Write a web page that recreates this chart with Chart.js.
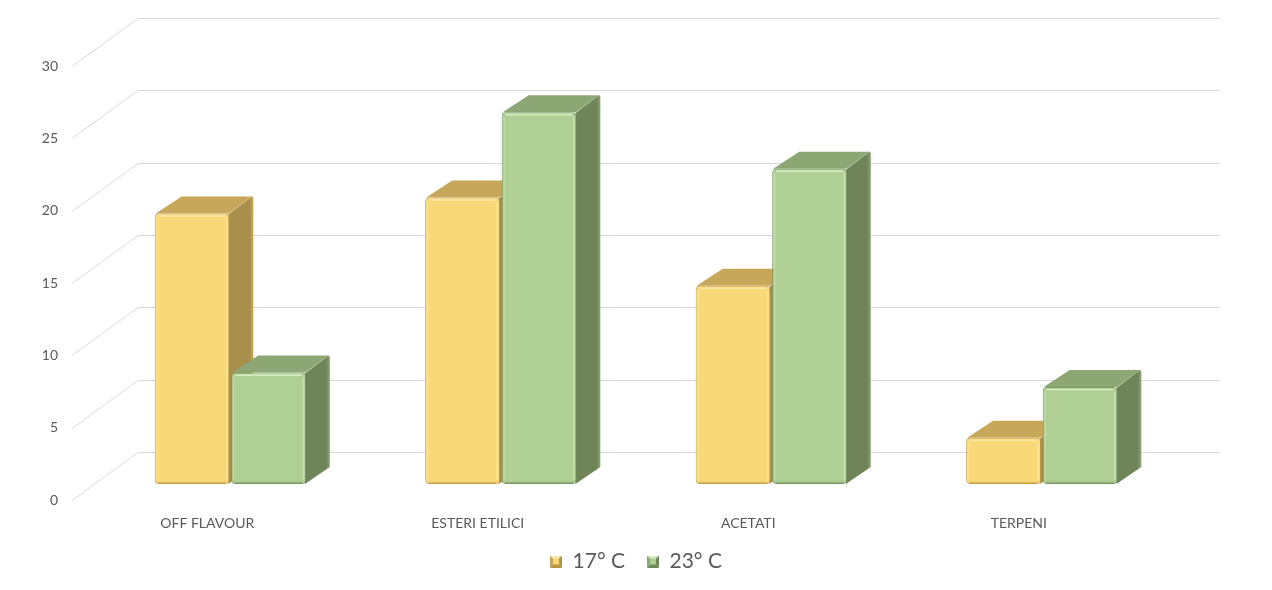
<!DOCTYPE html>
<html>
<head>
<meta charset="utf-8">
<script src="https://cdn.jsdelivr.net/npm/chart.js@4.4.0/dist/chart.umd.min.js"></script>
<style>
  html, body { margin: 0; padding: 0; background: #ffffff; }
  canvas { display: block; }
</style>
</head>
<body>
<canvas id="c" width="1272" height="590"></canvas>
<script>
// ---- data ----
const categories = ['OFF FLAVOUR', 'ESTERI ETILICI', 'ACETATI', 'TERPENI'];
const seriesNames = ['17° C', '23° C'];
const values17 = [18.7, 19.8, 13.7, 3.2];
const values23 = [7.7, 25.7, 21.8, 6.7];
const yTickValues = [0, 5, 10, 15, 20, 25, 30];

// ---- styles ----
const TEXT = '#595959';
const FONT = 'Lato, "Open Sans", "DejaVu Sans", sans-serif';
const PAL = [
  { front: '#F9D878', border: '#C3A04C', hi: '#FDEBAA', top: '#C7A85B', side: '#A88F4B', dark: '#B8963F' },
  { front: '#B0CF95', border: '#7A9862', hi: '#D6ECC0', top: '#8CA774', side: '#6F8559', dark: '#6E8A58' }
];
const WALL = { dx: 66, dy: -48 };      // depth of the back wall
const BAR_OFF = { dx: 23, dy: -16 };   // bar front plane offset
const BAR_DEPTH = { dx: 24, dy: -18 }; // bar depth

function makeIcon(p) {
  const c = document.createElement('canvas');
  c.width = 12; c.height = 12;
  const g = c.getContext('2d');
  const s = 12, b = 3;
  const tri = (pts, col) => { g.fillStyle = col; g.beginPath(); g.moveTo(pts[0][0], pts[0][1]); for (let i = 1; i < pts.length; i++) g.lineTo(pts[i][0], pts[i][1]); g.closePath(); g.fill(); };
  tri([[0,0],[s,0],[s-b,b],[b,b]], p.hi);
  tri([[0,0],[b,b],[b,s-b],[0,s]], p.top);
  tri([[s,0],[s,s],[s-b,s-b],[s-b,b]], p.side);
  tri([[0,s],[b,s-b],[s-b,s-b],[s,s]], p.dark);
  g.fillStyle = p.front; g.fillRect(b, b, s-2*b, s-2*b);
  return c;
}
const icons = PAL.map(makeIcon);

const threeD = {
  id: 'threeD',
  beforeDatasetsDraw(chart) {
    const ctx = chart.ctx, ys = chart.scales.y, a = chart.chartArea;
    // back wall + side wall gridlines
    ctx.save();
    ctx.strokeStyle = '#D9D9D9';
    ctx.lineWidth = 1;
    ys.ticks.forEach(t => {
      const py = Math.round(ys.getPixelForValue(t.value)) + 0.5;
      ctx.beginPath();
      ctx.moveTo(a.left, py);
      ctx.lineTo(a.left + WALL.dx, py + WALL.dy);
      ctx.lineTo(a.right + WALL.dx, py + WALL.dy);
      ctx.stroke();
    });
    ctx.restore();

    // bars: side and top faces (front faces drawn by Chart.js)
    ctx.save();
    ctx.translate(BAR_OFF.dx, BAR_OFF.dy);
    const dx = BAR_DEPTH.dx, dy = BAR_DEPTH.dy;
    chart.data.datasets.forEach((ds, i) => {
      const meta = chart.getDatasetMeta(i);
      const p = PAL[i];
      meta.data.forEach(bar => {
        const { x, y, base, width } = bar.getProps(['x', 'y', 'base', 'width'], true);
        const l = x - width / 2, r = x + width / 2;
        // side face
        const sg = ctx.createLinearGradient(r, 0, r + dx, 0);
        sg.addColorStop(0, p.side);
        sg.addColorStop(0.85, p.side);
        sg.addColorStop(1, p.top);
        ctx.fillStyle = sg;
        ctx.beginPath();
        ctx.moveTo(r - 1, y + 1);
        ctx.lineTo(r + dx - 2, y + dy + 1);
        ctx.quadraticCurveTo(r + dx, y + dy + 1, r + dx, y + dy + 3);
        ctx.lineTo(r + dx, base + dy + 1);
        ctx.lineTo(r - 1, base);
        ctx.closePath();
        ctx.fill();
        // top face
        ctx.fillStyle = p.top;
        ctx.beginPath();
        ctx.moveTo(l + 1, y);
        ctx.lineTo(r, y);
        ctx.lineTo(r + dx - 1, y + dy + 1);
        ctx.lineTo(l + dx + 3, y + dy + 1);
        ctx.closePath();
        ctx.fill();
        // soft edge highlight on the top face ridge
        ctx.strokeStyle = 'rgba(255,255,255,0.25)';
        ctx.lineWidth = 1;
        ctx.beginPath();
        ctx.moveTo(r - 1, y + 0.5);
        ctx.lineTo(r + dx - 2, y + dy + 1.5);
        ctx.stroke();
      });
    });
    // translation kept for the Chart.js front faces; restored in afterDatasetsDraw
  },
  afterDatasetsDraw(chart) {
    const ctx = chart.ctx;
    chart.data.datasets.forEach((ds, i) => {
      const meta = chart.getDatasetMeta(i);
      const p = PAL[i];
      meta.data.forEach(bar => {
        const { x, y, base, width } = bar.getProps(['x', 'y', 'base', 'width'], true);
        const l = x - width / 2, r = x + width / 2;
        ctx.save();
        ctx.lineWidth = 1.6;
        ctx.strokeStyle = p.hi;
        ctx.globalAlpha = 0.9;
        ctx.beginPath();
        ctx.moveTo(l + 4, y + 2.5);
        ctx.lineTo(r - 4, y + 2.5);
        ctx.stroke();
        ctx.globalAlpha = 0.6;
        ctx.beginPath();
        ctx.moveTo(r - 2.5, y + 4);
        ctx.lineTo(r - 2.5, base - 4);
        ctx.stroke();
        ctx.globalAlpha = 0.35;
        ctx.beginPath();
        ctx.moveTo(l + 2.5, y + 4);
        ctx.lineTo(l + 2.5, base - 4);
        ctx.stroke();
        // darker bottom bevel
        ctx.globalAlpha = 0.5;
        ctx.strokeStyle = p.border;
        ctx.lineWidth = 1.5;
        ctx.beginPath();
        ctx.moveTo(l + 3, base - 1.5);
        ctx.lineTo(r - 3, base - 1.5);
        ctx.stroke();
        ctx.restore();
      });
    });
    ctx.restore();
  }
};

const chart = new Chart(document.getElementById('c'), {
  type: 'bar',
  data: {
    labels: categories,
    datasets: [
      {
        label: seriesNames[0], data: values17,
        backgroundColor: PAL[0].front, borderColor: PAL[0].border,
        borderWidth: 1, borderRadius: 4, borderSkipped: false
      },
      {
        label: seriesNames[1], data: values23,
        backgroundColor: PAL[1].front, borderColor: PAL[1].border,
        borderWidth: 1, borderRadius: 4, borderSkipped: false
      }
    ]
  },
  options: {
    responsive: false,
    animation: false,
    events: [],
    devicePixelRatio: 1,
    layout: { padding: { top: 66, bottom: 8, left: 0, right: 0 } },
    datasets: { bar: { categoryPercentage: 0.566, barPercentage: 0.975, clip: false } },
    scales: {
      x: {
        grid: { display: false, drawTicks: false },
        border: { display: false },
        ticks: { color: TEXT, font: { family: FONT, size: 14 }, padding: 15, maxRotation: 0 },
        afterFit(s) { s.height = 29; }
      },
      y: {
        min: 0, max: 30,
        afterBuildTicks(s) { s.ticks = yTickValues.map(v => ({ value: v })); },
        grid: { display: false, drawTicks: false },
        border: { display: false },
        ticks: { color: TEXT, font: { family: FONT, size: 14 }, padding: 14 },
        afterFit(s) { s.width = 72; }
      },
      yR: {
        position: 'right',
        display: true,
        min: 0, max: 30,
        grid: { display: false, drawTicks: false },
        border: { display: false },
        ticks: { display: false },
        afterFit(s) { s.width = 118; }
      }
    },
    plugins: {
      tooltip: { enabled: false },
      legend: {
        position: 'bottom',
        labels: {
          usePointStyle: true,
          boxWidth: 12, boxHeight: 12,
          padding: 22,
          color: TEXT,
          font: { family: FONT, size: 21 },
          generateLabels: (ch) => ch.data.datasets.map((ds, i) => ({
            text: ds.label,
            pointStyle: icons[i],
            fillStyle: PAL[i].front,
            strokeStyle: PAL[i].border,
            lineWidth: 0,
            fontColor: TEXT,
            hidden: false,
            datasetIndex: i
          }))
        }
      }
    }
  },
  plugins: [threeD]
});
</script>
</body>
</html>
